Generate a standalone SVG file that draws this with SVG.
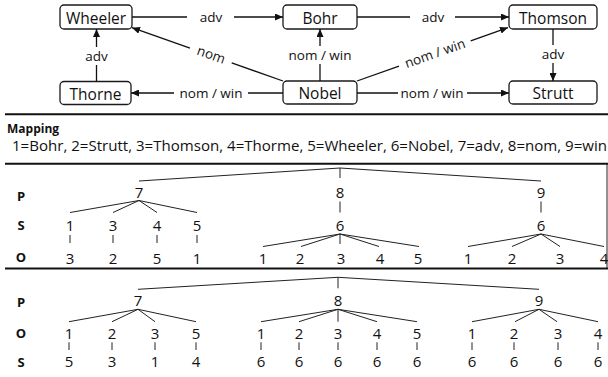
<svg xmlns="http://www.w3.org/2000/svg" width="608" height="377" viewBox="0 0 608 377">
  <style>
    text { font-family: "Open Sans", "Liberation Sans", sans-serif; fill: #111; }
    .box { fill: #fff; stroke: #1a1a1a; stroke-width: 1.3; }
    .nt { font-size: 15.5px; text-anchor: middle; }
    .el { font-size: 13.5px; text-anchor: middle; }
    .edge { stroke: #111; stroke-width: 1.3; fill: none; }
    .arr { marker-end: url(#ah); }
    .rule { stroke: #111; stroke-width: 2; }
    .tl { stroke: #222; stroke-width: 1; fill: none; }
    .d { font-size: 15px; text-anchor: middle; }
    .lab { font-size: 13px; font-weight: bold; text-anchor: middle; }
    .head { font-size: 12px; font-weight: bold; }
    .map { font-size: 14.5px; }
  </style>
  <defs>
    <marker id="ah" markerWidth="8" markerHeight="7" refX="8" refY="3.5" orient="auto" markerUnits="userSpaceOnUse">
      <path d="M0,0 L8,3.5 L0,7 z" fill="#111"/>
    </marker>
  </defs>

  <!-- graph nodes -->
  <g id="wheeler"><rect class="box" x="60" y="5" width="72" height="24" rx="4"/><text class="nt" x="96" y="23.5">Wheeler</text></g>
  <g id="bohr"><rect class="box" x="283" y="5" width="74" height="24" rx="4"/><text class="nt" x="320" y="23.5">Bohr</text></g>
  <g id="thomson"><rect class="box" x="509" y="5" width="88" height="24" rx="4"/><text class="nt" x="553" y="23.5">Thomson</text></g>
  <g id="thorne"><rect class="box" x="60" y="81.5" width="71" height="23" rx="4"/><text class="nt" x="95.5" y="99.5">Thorne</text></g>
  <g id="nobel"><rect class="box" x="283" y="81" width="74" height="23" rx="4"/><text class="nt" x="320" y="99">Nobel</text></g>
  <g id="strutt"><rect class="box" x="509" y="81" width="88" height="23" rx="4"/><text class="nt" x="553" y="99">Strutt</text></g>

  <!-- graph connectors with their labels -->
  <g id="connectors">
    <!-- Wheeler -> Bohr -->
    <line class="edge" x1="132" y1="17" x2="187" y2="17"/>
    <line class="edge arr" x1="234" y1="17" x2="283" y2="17"/>
    <text class="el" x="211" y="22">adv</text>
    <!-- Bohr -> Thomson -->
    <line class="edge" x1="357" y1="17" x2="410" y2="17"/>
    <line class="edge arr" x1="455" y1="17" x2="509" y2="17"/>
    <text class="el" x="433" y="22">adv</text>
    <!-- Thorne -> Wheeler -->
    <line class="edge" x1="96.5" y1="81.5" x2="96.5" y2="65"/>
    <line class="edge arr" x1="96.5" y1="47" x2="96.5" y2="29"/>
    <text class="el" x="96.5" y="61">adv</text>
    <!-- Nobel -> Bohr -->
    <line class="edge" x1="320" y1="81" x2="320" y2="64"/>
    <line class="edge arr" x1="320" y1="46" x2="320" y2="29"/>
    <text class="el" x="320" y="60">nom / win</text>
    <!-- Thomson -> Strutt -->
    <line class="edge" x1="553" y1="29" x2="553" y2="45"/>
    <line class="edge arr" x1="553" y1="63" x2="553" y2="81"/>
    <text class="el" x="553" y="59">adv</text>
    <!-- Nobel -> Thorne -->
    <line class="edge" x1="283" y1="93" x2="248" y2="93"/>
    <line class="edge arr" x1="174" y1="93" x2="131" y2="93"/>
    <text class="el" x="211" y="98">nom / win</text>
    <!-- Nobel -> Strutt -->
    <line class="edge" x1="357" y1="93" x2="398" y2="93"/>
    <line class="edge arr" x1="467" y1="93" x2="509" y2="93"/>
    <text class="el" x="432" y="98">nom / win</text>
    <!-- Nobel -> Wheeler (diagonal) -->
    <line class="edge" x1="283" y1="81" x2="231.7" y2="62.9"/>
    <line class="edge arr" x1="190" y1="48.2" x2="132" y2="27.7"/>
    <text class="el" transform="translate(211,55.5) rotate(19.46)" x="0" y="3.8">nom</text>
    <!-- Nobel -> Thomson (diagonal) -->
    <line class="edge" x1="357" y1="81" x2="399" y2="66.2"/>
    <line class="edge arr" x1="470.7" y1="40.8" x2="508" y2="27.6"/>
    <text class="el" transform="translate(435,53.5) rotate(-19.46)" x="0" y="4.5">nom / win</text>
  </g>

  <!-- section rules -->
  <g id="rules">
    <line class="rule" x1="5" y1="114.3" x2="608" y2="114.3"/>
    <line class="rule" x1="5" y1="163.7" x2="608" y2="163.7"/>
    <line class="rule" x1="5" y1="268.5" x2="608" y2="268.5"/>
    <line class="tl" x1="607" y1="163.7" x2="607" y2="268.5"/>
  </g>

  <!-- mapping legend -->
  <g id="mapping">
    <text class="head" x="7" y="133">Mapping</text>
    <text class="map" x="12" y="150.5" textLength="595" lengthAdjust="spacingAndGlyphs">1=Bohr, 2=Strutt, 3=Thomson, 4=Thorme, 5=Wheeler, 6=Nobel, 7=adv, 8=nom, 9=win</text>
  </g>

  <!-- PSO index tree -->
  <g id="pso">
    <text class="lab" x="21" y="200.6">P</text>
    <text class="lab" x="21" y="229.6">S</text>
    <text class="lab" x="21" y="261.6">O</text>
    <path class="tl" d="M139,181 L340,168 L541,181 M340,168 V178"/>
    <text class="d" x="139" y="197.5">7</text>
    <text class="d" x="340" y="197.5">8</text>
    <text class="d" x="541" y="197.5">9</text>
    <!-- 7 branch -->
    <path class="tl" d="M139,200.5 L70,212.5 M139,200.5 L113,212.5 M139,200.5 L157,212.5 M139,200.5 L197,212.5"/>
    <text class="d" x="70" y="230.5">1</text>
    <text class="d" x="113" y="230.5">3</text>
    <text class="d" x="157" y="230.5">4</text>
    <text class="d" x="197" y="230.5">5</text>
    <path class="tl" d="M70,235 V243 M113,235 V243 M157,235 V243 M197,235 V243"/>
    <text class="d" x="70" y="263.5">3</text>
    <text class="d" x="113" y="263.5">2</text>
    <text class="d" x="157" y="263.5">5</text>
    <text class="d" x="197" y="263.5">1</text>
    <!-- 8 branch -->
    <path class="tl" d="M340,201.5 V212.5"/>
    <text class="d" x="340" y="230.5">6</text>
    <path class="tl" d="M340,234 L263,246.5 M340,234 L301,246.5 M340,234 V244 M340,234 L379,246.5 M340,234 L419,246.5"/>
    <text class="d" x="263" y="263.5">1</text>
    <text class="d" x="300" y="263.5">2</text>
    <text class="d" x="341" y="263.5">3</text>
    <text class="d" x="380" y="263.5">4</text>
    <text class="d" x="418" y="263.5">5</text>
    <!-- 9 branch -->
    <path class="tl" d="M541,201.5 V212.5"/>
    <text class="d" x="541" y="230.5">6</text>
    <path class="tl" d="M541,234 L468,246.5 M541,234 L512,246.5 M541,234 L560,246.5 M541,234 L604,246.5"/>
    <text class="d" x="468" y="263.5">1</text>
    <text class="d" x="512" y="263.5">2</text>
    <text class="d" x="560" y="263.5">3</text>
    <text class="d" x="604" y="263.5">4</text>
  </g>

  <!-- POS index tree -->
  <g id="pos">
    <text class="lab" x="21" y="306.6">P</text>
    <text class="lab" x="21" y="338">O</text>
    <text class="lab" x="21" y="366.6">S</text>
    <path class="tl" d="M138,289.3 L338,277.3 L539,289.3 M338,277.3 V288.3"/>
    <text class="d" x="138" y="306">7</text>
    <text class="d" x="338" y="306">8</text>
    <text class="d" x="539" y="306">9</text>
    <!-- 7 branch -->
    <path class="tl" d="M138,309.3 L69,321.7 M138,309.3 L112,321.7 M138,309.3 L155,321.7 M138,309.3 L196,321.7"/>
    <text class="d" x="69" y="339">1</text>
    <text class="d" x="112" y="339">2</text>
    <text class="d" x="155" y="339">3</text>
    <text class="d" x="196" y="339">5</text>
    <path class="tl" d="M69,342.3 V350 M112,342.3 V350 M155,342.3 V350 M196,342.3 V350"/>
    <text class="d" x="69" y="367">5</text>
    <text class="d" x="112" y="367">3</text>
    <text class="d" x="155" y="367">1</text>
    <text class="d" x="196" y="367">4</text>
    <!-- 8 branch -->
    <path class="tl" d="M338,309.3 L261,321.7 M338,309.3 L299,321.7 M338,309.3 V321.7 M338,309.3 L377,321.7 M338,309.3 L417,321.7"/>
    <text class="d" x="261" y="339">1</text>
    <text class="d" x="299" y="339">2</text>
    <text class="d" x="338" y="339">3</text>
    <text class="d" x="377" y="339">4</text>
    <text class="d" x="417" y="339">5</text>
    <path class="tl" d="M261,342.3 V350 M299,342.3 V350 M338,342.3 V350 M377,342.3 V350 M417,342.3 V350"/>
    <text class="d" x="261" y="367">6</text>
    <text class="d" x="299" y="367">6</text>
    <text class="d" x="338" y="367">6</text>
    <text class="d" x="377" y="367">6</text>
    <text class="d" x="417" y="367">6</text>
    <!-- 9 branch -->
    <path class="tl" d="M539,309.3 L472,321.7 M539,309.3 L515,321.7 M539,309.3 L557,321.7 M539,309.3 L598,321.7"/>
    <text class="d" x="472" y="339">1</text>
    <text class="d" x="514" y="339">2</text>
    <text class="d" x="558" y="339">3</text>
    <text class="d" x="598" y="339">4</text>
    <path class="tl" d="M472,342.3 V350 M514,342.3 V350 M558,342.3 V350 M598,342.3 V350"/>
    <text class="d" x="472" y="367">6</text>
    <text class="d" x="514" y="367">6</text>
    <text class="d" x="558" y="367">6</text>
    <text class="d" x="598" y="367">6</text>
  </g>
</svg>
